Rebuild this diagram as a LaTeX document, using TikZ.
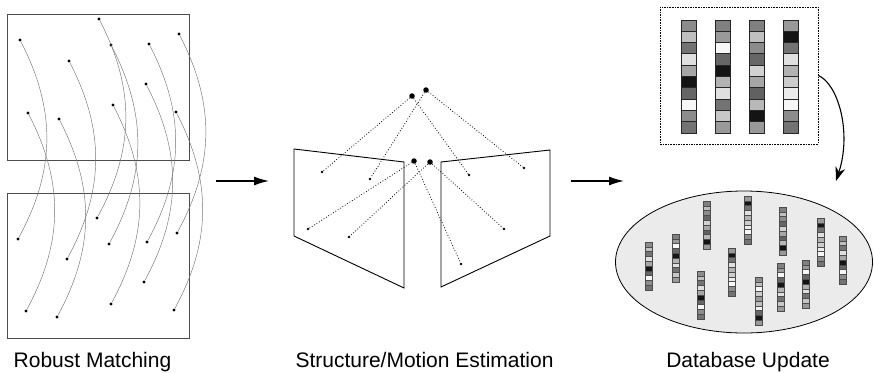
\documentclass[tikz,border=0pt]{standalone}
\usepackage{fontspec}
\setmainfont{Liberation Sans}
\usetikzlibrary{arrows.meta,shapes.geometric}
\newcommand{\mybarcode}[6]{% x, ytop, w, h, style, list
  \foreach \g [count=\i from 0] in #6 {
    \filldraw[#5, fill=black!\g] (#1, #2+\i*#4) rectangle ++(#3,#4);
  }
}
\def\pA{45,25,55,12,35,92,60,3,45,55}
\def\pB{50,40,3,60,92,30,12,55,22,40}
\def\pC{50,25,45,60,18,35,62,28,92,40}
\def\pD{40,92,55,12,30,20,8,3,45,55}
\def\pJ{45,25,3,20,40,25,5,60,92,40}
\begin{document}
\begin{tikzpicture}[x=1pt,y=-1pt,
  frame/.style={draw=black!70, line width=0.9pt},
  mdot/.style={circle, fill=black, inner sep=0pt, minimum size=3.2pt},
  sdot/.style={circle, fill=black, inner sep=0pt, minimum size=2.6pt},
  bdot/.style={circle, fill=black, inner sep=0pt, minimum size=5.5pt},
  match/.style={draw=black!55, line width=0.45pt, bend left=28},
  ray/.style={draw=black, line width=0.8pt, dotted},
  quad/.style={draw=black, line width=0.9pt},
  flow/.style={line width=1.3pt, -{Latex[length=15pt,width=9pt]}},
  bigcell/.style={draw=black!85, line width=0.9pt},
  smallcell/.style={draw=black!70, line width=0.45pt},
  lbl/.style={font=\fontsize{21}{25}\selectfont, anchor=base, inner sep=0pt}]
\useasboundingbox (0,0) rectangle (874,372);

% ---------- Robust Matching ----------
\draw[frame] (7,14) rectangle (189,160);
\draw[frame] (7,193) rectangle (189,338);
\node[mdot] (t1) at (99,19) {};
\node[mdot] (t2) at (20,40) {};
\node[mdot] (t3) at (179,34) {};
\node[mdot] (t4) at (149,44) {};
\node[mdot] (t5) at (111,45) {};
\node[mdot] (t6) at (69,61) {};
\node[mdot] (t7) at (146,84) {};
\node[mdot] (t8) at (28,113) {};
\node[mdot] (t9) at (113,105) {};
\node[mdot] (t10) at (59,119) {};
\node[mdot] (t11) at (176,112) {};
\node[mdot] (b1) at (97,218) {};
\node[mdot] (b2) at (18,239) {};
\node[mdot] (b3) at (177,233) {};
\node[mdot] (b4) at (147,242) {};
\node[mdot] (b5) at (109,244) {};
\node[mdot] (b6) at (67,259) {};
\node[mdot] (b7) at (144,282) {};
\node[mdot] (b8) at (26,311) {};
\node[mdot] (b9) at (111,304) {};
\node[mdot] (b10) at (57,317) {};
\node[mdot] (b11) at (174,310) {};
\foreach \k in {1,...,11} {
  \draw[match] (t\k) to (b\k);
}

% ---------- arrows between panels ----------
\coordinate (a1s) at (216,181);
\coordinate (a1e) at (269,181);
\coordinate (a2s) at (571,181);
\coordinate (a2e) at (624,181);
\draw[flow] (a1s) -- (a1e);
\draw[flow] (a2s) -- (a2e);

% ---------- Structure/Motion Estimation ----------
\draw[quad] (294,149) -- (404,162) -- (404,288) -- (294,236) -- cycle;
\draw[quad] (441,162) -- (550,150) -- (550,236) -- (441,287) -- cycle;
\node[bdot] (m1) at (412,96) {};
\node[bdot] (m2) at (426,90) {};
\node[bdot] (m3) at (414,161) {};
\node[bdot] (m4) at (430,162) {};
\node[sdot] (s1) at (322,172) {};
\node[sdot] (s2) at (370,179) {};
\node[sdot] (s3) at (308,229) {};
\node[sdot] (s4) at (349,237) {};
\node[sdot] (s5) at (469,175) {};
\node[sdot] (s6) at (524,168) {};
\node[sdot] (s7) at (504,229) {};
\node[sdot] (s8) at (461,264) {};
\draw[ray] (m1) -- (s1);
\draw[ray] (m1) -- (s5);
\draw[ray] (m2) -- (s2);
\draw[ray] (m2) -- (s6);
\draw[ray] (m3) -- (s3);
\draw[ray] (m3) -- (s8);
\draw[ray] (m4) -- (s4);
\draw[ray] (m4) -- (s7);

% ---------- Database Update ----------
\node[draw=black, line width=0.8pt, dash pattern=on 1.6pt off 1pt,
      minimum width=158pt, minimum height=137pt, inner sep=0pt]
  (dbox) at (739,75.5) {};
\mybarcode{681}{20}{15}{11.3}{bigcell}{\pA}
\mybarcode{715}{20}{15}{11.3}{bigcell}{\pB}
\mybarcode{749}{20}{15}{11.3}{bigcell}{\pC}
\mybarcode{783}{20}{15}{11.3}{bigcell}{\pD}

\node[draw=black, line width=0.8pt, fill=black!8, ellipse,
      minimum width=257pt, minimum height=142pt, inner sep=0pt]
  (db) at (744,262) {};
\mybarcode{645.5}{242}{7}{4.8}{smallcell}{\pA}
\mybarcode{672}{234}{7}{4.8}{smallcell}{\pB}
\mybarcode{703}{201}{7}{4.8}{smallcell}{\pC}
\mybarcode{744}{196}{7}{4.8}{smallcell}{\pD}
\mybarcode{697}{271}{7}{4.8}{smallcell}{\pA}
\mybarcode{728}{248}{7}{4.8}{smallcell}{\pD}
\mybarcode{779}{207}{7}{4.8}{smallcell}{\pC}
\mybarcode{817}{218}{7}{4.8}{smallcell}{\pD}
\mybarcode{839}{236}{7}{4.8}{smallcell}{\pA}
\mybarcode{755}{277}{7}{4.8}{smallcell}{\pJ}
\mybarcode{777}{263}{7}{4.8}{smallcell}{\pB}
\mybarcode{802}{260}{7}{4.8}{smallcell}{\pB}

\coordinate (dbt) at (836,181);
\draw[line width=1.1pt, -{Stealth[length=14pt,width=10pt]}]
  (dbox.east) .. controls (838,84) and (852,132) .. (dbt);

% ---------- labels ----------
\node[lbl] (l1) at (92.5,367) {Robust Matching};
\node[lbl] (l2) at (424.5,367) {Structure/Motion Estimation};
\node[lbl] (l3) at (748,367) {Database Update};
\end{tikzpicture}
\end{document}
